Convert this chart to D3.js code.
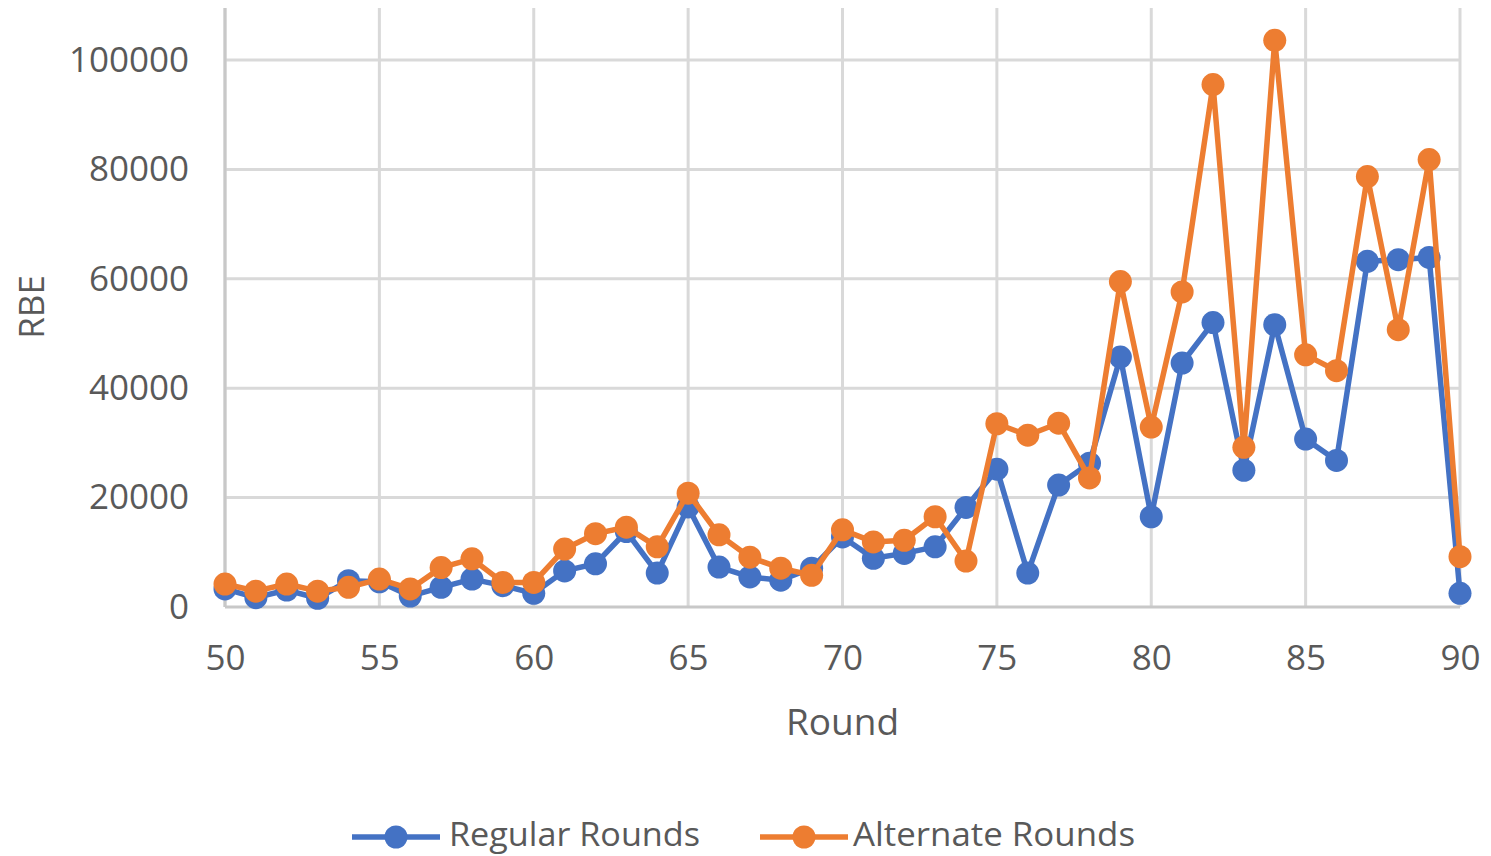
<!DOCTYPE html>
<html>
<head>
<meta charset="utf-8">
<script src="https://cdn.jsdelivr.net/npm/d3@7/dist/d3.min.js"></script>
<style>
  html, body { margin: 0; padding: 0; background: #fff; }
  svg { display: block; }
  text { font-family: "Open Sans", sans-serif; fill: #595959; }
</style>
</head>
<body>
<svg id="chart" width="1491" height="856"></svg>
<script>
// Rounds on the x axis
const rounds = d3.range(50, 91);

// RBE per round, regular schedule
const regularRounds = [
  3300, 1700, 3100, 1600, 4800, 4600, 2000, 3600, 5100, 3900,
  2500, 6600, 7900, 13800, 6200, 18300, 7300, 5500, 4900, 7100,
  12800, 8900, 9800, 11000, 18200, 25200, 6200, 22300, 26300, 45700,
  16500, 44600, 52000, 25000, 51600, 30700, 26800, 63200, 63500, 63900,
  2500
];

// RBE per round, alternate schedule
const alternateRounds = [
  4200, 2900, 4200, 2900, 3600, 5100, 3300, 7200, 8800, 4500,
  4500, 10600, 13400, 14600, 11000, 20800, 13200, 9100, 7100, 5800,
  14100, 11900, 12200, 16500, 8400, 33500, 31400, 33600, 23600, 59500,
  32900, 57600, 95500, 29200, 103600, 46100, 43200, 78700, 50700, 81800,
  9200
];

const xTicks = [50, 55, 60, 65, 70, 75, 80, 85, 90];
const yTicks = [0, 20000, 40000, 60000, 80000, 100000];

const seriesNames = ["Regular Rounds", "Alternate Rounds"];
const seriesColors = ["#4472C4", "#ED7D31"];

const svg = d3.select("#chart");
const plot = { left: 225, right: 1460, top: 8, bottom: 607 };

const x = d3.scaleLinear().domain([50, 90]).range([plot.left, plot.right]);
// 0 → 607 px, 100000 → 60 px
const y = d3.scaleLinear().domain([0, 100000]).range([plot.bottom, 60]);

// vertical gridlines
svg.append("g")
  .selectAll("line")
  .data(xTicks)
  .join("line")
  .attr("x1", d => x(d)).attr("x2", d => x(d))
  .attr("y1", plot.top).attr("y2", plot.bottom)
  .attr("stroke", "#d9d9d9").attr("stroke-width", 3);

// horizontal gridlines
svg.append("g")
  .selectAll("line")
  .data(yTicks.filter(d => d > 0))
  .join("line")
  .attr("x1", plot.left).attr("x2", plot.right)
  .attr("y1", d => y(d)).attr("y2", d => y(d))
  .attr("stroke", "#d9d9d9").attr("stroke-width", 3);

// axis lines
svg.append("line")
  .attr("x1", plot.left).attr("x2", plot.right)
  .attr("y1", plot.bottom).attr("y2", plot.bottom)
  .attr("stroke", "#c8c8c8").attr("stroke-width", 3);
svg.append("line")
  .attr("x1", plot.left).attr("x2", plot.left)
  .attr("y1", plot.top).attr("y2", plot.bottom)
  .attr("stroke", "#c8c8c8").attr("stroke-width", 3);

// y tick labels via d3 axis
const yAxis = svg.append("g")
  .attr("transform", `translate(${plot.left},0)`)
  .call(d3.axisLeft(y).tickValues(yTicks).tickFormat(d3.format("d")).tickSize(0).tickPadding(36));
yAxis.select(".domain").remove();
yAxis.selectAll("text")
  .style("font-family", "Open Sans").style("font-size", "35px").style("fill", "#595959");

// x tick labels via d3 axis
const xAxis = svg.append("g")
  .attr("transform", `translate(0,${plot.bottom})`)
  .call(d3.axisBottom(x).tickValues(xTicks).tickFormat(d3.format("d")).tickSize(0));
xAxis.select(".domain").remove();
xAxis.selectAll("text")
  .attr("y", 63).attr("dy", 0)
  .style("font-family", "Open Sans").style("font-size", "35px").style("fill", "#595959");

// axis titles
svg.append("text")
  .attr("x", (plot.left + plot.right) / 2).attr("y", 735)
  .attr("text-anchor", "middle")
  .style("font-size", "37px")
  .text("Round");
svg.append("text")
  .attr("transform", "translate(44,307) rotate(-90)")
  .attr("text-anchor", "middle")
  .style("font-size", "35px")
  .text("RBE");

// series lines and markers
const allSeries = [regularRounds, alternateRounds];
const line = d3.line().x((d, i) => x(rounds[i])).y(d => y(d));

allSeries.forEach((vals, si) => {
  const g = svg.append("g");
  g.append("path")
    .datum(vals)
    .attr("d", line)
    .attr("fill", "none")
    .attr("stroke", seriesColors[si])
    .attr("stroke-width", 5.5)
    .attr("stroke-linejoin", "round");
  g.selectAll("circle")
    .data(vals)
    .join("circle")
    .attr("cx", (d, i) => x(rounds[i]))
    .attr("cy", d => y(d))
    .attr("r", 11.5)
    .attr("fill", seriesColors[si]);
});

// legend
const legendItems = [
  { x: 352, textX: 449, width: 251 },
  { x: 760, textX: 853, width: 282 }
];
legendItems.forEach((item, i) => {
  const lg = svg.append("g");
  lg.append("line")
    .attr("x1", item.x).attr("x2", item.x + 88)
    .attr("y1", 837).attr("y2", 837)
    .attr("stroke", seriesColors[i]).attr("stroke-width", 5.5);
  lg.append("circle")
    .attr("cx", item.x + 44).attr("cy", 837).attr("r", 11.5)
    .attr("fill", seriesColors[i]);
  lg.append("text")
    .attr("x", item.textX).attr("y", 846)
    .attr("textLength", item.width)
    .attr("lengthAdjust", "spacingAndGlyphs")
    .style("font-size", "32px")
    .text(seriesNames[i]);
});
</script>
</body>
</html>
